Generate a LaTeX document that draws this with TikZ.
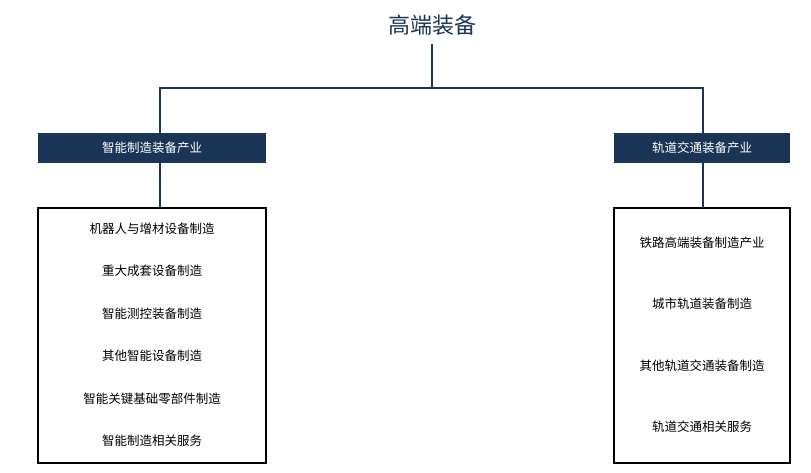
\documentclass[tikz,border=0pt]{standalone}
\usepackage{fontspec}
\newfontfamily\cjk{Noto Sans CJK SC}
\definecolor{navy}{HTML}{1B3557}
\tikzset{
 hdr/.style={fill=navy,text=white,minimum height=30pt,inner sep=0pt,font=\cjk\fontsize{12.5}{14}\selectfont},
 lst/.style={draw=black,line width=1.5pt,inner sep=0pt},
 item/.style={font=\cjk\fontsize{12.5}{14}\selectfont},
 conn/.style={draw=navy,line width=2.5pt}
}
\begin{document}
\begin{tikzpicture}[x=1pt,y=-1pt]
\useasboundingbox[fill=white] (0,0) rectangle (811,472);
\node[text=navy,font=\cjk\fontsize{22}{26}\selectfont] (t) at (432,25) {高端装备};
\node[hdr,minimum width=228pt] (h1) at (152,148) {智能制造装备产业};
\node[hdr,minimum width=176pt] (h2) at (702,148) {轨道交通装备产业};
\node[lst,minimum width=228pt,minimum height=255pt] (b1) at (152,335.5) {};
\node[lst,minimum width=176pt,minimum height=255pt] (b2) at (702,335.5) {};
\coordinate (j) at (432,88);
\draw[conn] (432,44) -- (j);
\draw[conn] (160,133) |- (j) -| (703,133);
\draw[conn] (160,163) -- (160,208);
\draw[conn] (703,163) -- (703,208);
\foreach \t/\y [count=\i] in {机器人与增材设备制造/229,重大成套设备制造/271,智能测控装备制造/314,其他智能设备制造/356,智能关键基础零部件制造/399,智能制造相关服务/441}
 \node[item] (l\i) at (152,\y) {\t};
\foreach \t/\y [count=\i] in {铁路高端装备制造产业/243,城市轨道装备制造/304,其他轨道交通装备制造/366,轨道交通相关服务/427}
 \node[item] (r\i) at (702,\y) {\t};
\end{tikzpicture}
\end{document}
